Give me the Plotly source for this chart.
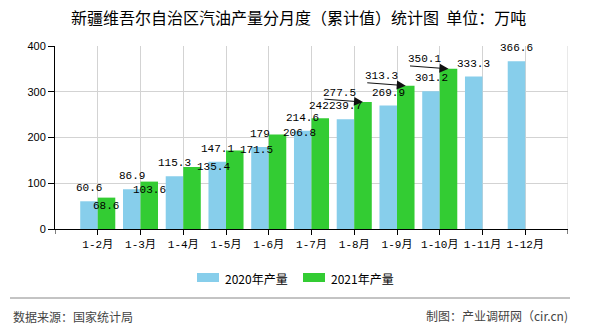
import plotly.graph_objects as go

# ---------------- data ----------------
categories = ["1-2月", "1-3月", "1-4月", "1-5月", "1-6月", "1-7月",
              "1-8月", "1-9月", "1-10月", "1-11月", "1-12月"]
values_2020 = [60.6, 86.9, 115.3, 147.1, 179, 214.6, 239.7, 269.9, 301.2, 333.3, 366.6]
values_2021 = [68.6, 103.6, 135.4, 171.5, 206.8, 242, 277.5, 313.3, 350.1, None, None]
series_names = ["2020年产量", "2021年产量"]
y_ticks = [0, 100, 200, 300, 400]

title_text = "新疆维吾尔自治区汽油产量分月度（累计值）统计图  单位：万吨"
source_text = "数据来源：国家统计局"
credit_text = "制图：产业调研网（cir.cn)"

# ---------------- styles / layout ----------------
COL_2020 = "#87CEEB"
COL_2021 = "#33CC33"
GRID = "#D3D3D3"
MONO = "Liberation Mono, DejaVu Sans Mono, Noto Sans CJK SC"
CJK = "Noto Sans CJK SC, Liberation Sans"

WIDTH, HEIGHT = 590, 330
L, R, T, B = 55, 22, 46, 101
PW = WIDTH - L - R
PH = HEIGHT - T - B
BAR_HALF = 8.75  # px offset of each bar centre from the category centre

# label offsets for the 2021 series (dx px, dy px, leader arrow?)
green_label_style = [(-1, -8, False), (0, -8, False), (21, 0, False), (22, 1, False),
                     (22, 1, False), (-1, 12, False), (-24, 9, True), (-24, 10, True),
                     (-24, 10, True), None, None]


def px(x):
    return (x - L) / PW


def py(y):
    return (HEIGHT - B - y) / PH


fig = go.Figure()
fig.add_trace(go.Bar(x=categories, y=values_2020, name=series_names[0],
                     marker=dict(color=COL_2020, line=dict(width=0)), showlegend=False))
fig.add_trace(go.Bar(x=categories, y=values_2021, name=series_names[1],
                     marker=dict(color=COL_2021, line=dict(width=0)), showlegend=False))

annotations = []
label_font = dict(family=MONO, size=11, color="#000000")

# 2020 labels: above the blue bar
for c, v in zip(categories, values_2020):
    annotations.append(dict(x=c, y=v, xref="x", yref="y", text=f"{v:g}",
                            showarrow=False, xshift=-BAR_HALF, yshift=13,
                            yanchor="middle", xanchor="center", font=label_font))

# 2021 labels
for c, v, st in zip(categories, values_2021, green_label_style):
    if v is None or st is None:
        continue
    dx, dy, arrow = st
    annotations.append(dict(x=c, y=v, xref="x", yref="y", text=f"{v:g}",
                            showarrow=False, xshift=BAR_HALF + dx, yshift=dy,
                            yanchor="middle", xanchor="center", font=label_font))
    if arrow:
        annotations.append(dict(x=c, y=v, xref="x", yref="y", text="",
                                showarrow=True, arrowhead=2, arrowsize=1.8,
                                arrowwidth=1, arrowcolor="#111111",
                                ax=-40, ay=-3, xshift=BAR_HALF, yshift=0,
                                standoff=0))

# title
annotations.append(dict(x=px(298), y=py(17), xref="paper", yref="paper",
                        text=title_text, showarrow=False, xanchor="center",
                        yanchor="middle", font=dict(family=CJK, size=16, color="#000000")))

# legend (manual)
legend_items = [(series_names[0], COL_2020, 197), (series_names[1], COL_2021, 303)]
shapes = []
for name, col, x0 in legend_items:
    shapes.append(dict(type="rect", xref="paper", yref="paper",
                       x0=px(x0), x1=px(x0 + 22), y0=py(282), y1=py(273),
                       fillcolor=col, line=dict(width=0)))
    annotations.append(dict(x=px(x0 + 26), y=py(278), xref="paper", yref="paper",
                            text=name, showarrow=False, xanchor="left", yanchor="middle",
                            font=dict(family=CJK, size=12, color="#000000")))

# footer
shapes.append(dict(type="line", xref="paper", yref="paper", x0=px(10), x1=px(570),
                   y0=py(298), y1=py(298), line=dict(color="#888888", width=1)))
annotations.append(dict(x=px(11), y=py(316), xref="paper", yref="paper",
                        text=source_text, showarrow=False, xanchor="left", yanchor="middle",
                        font=dict(family=CJK, size=12, color="#444444")))
annotations.append(dict(x=px(570), y=py(315), xref="paper", yref="paper",
                        text=credit_text, showarrow=False, xanchor="right", yanchor="middle",
                        font=dict(family=CJK, size=12, color="#444444")))

# right frame line & extra end ticks
n = len(categories)
shapes.append(dict(type="line", xref="x", yref="paper", x0=n, x1=n, y0=0, y1=1,
                   line=dict(color=GRID, width=1)))
for xpos in (-1, n):
    shapes.append(dict(type="line", xref="x", yref="paper", x0=xpos, x1=xpos,
                       y0=0, y1=py(234), line=dict(color="#000000", width=1)))

fig.update_layout(
    width=WIDTH, height=HEIGHT,
    margin=dict(l=L, r=R, t=T, b=B, pad=0),
    paper_bgcolor="white", plot_bgcolor="white",
    barmode="group", bargap=0.18, bargroupgap=0,
    showlegend=False,
    annotations=annotations, shapes=shapes,
    xaxis=dict(type="category", range=[-1, n], showgrid=True, gridcolor=GRID, gridwidth=1,
               showline=True, linecolor="#000000", linewidth=1,
               ticks="outside", ticklen=5, tickcolor="#000000",
               tickfont=dict(family=MONO, size=11, color="#000000"), zeroline=False),
    yaxis=dict(range=[0, 400], tickvals=y_ticks, showgrid=True, gridcolor=GRID, gridwidth=1,
               showline=True, linecolor="#000000", linewidth=1,
               ticks="outside", ticklen=6, tickcolor="#000000",
               tickfont=dict(family="Liberation Sans, Arial", size=11, color="#000000"),
               zeroline=False),
)

fig.write_html("out.html")
